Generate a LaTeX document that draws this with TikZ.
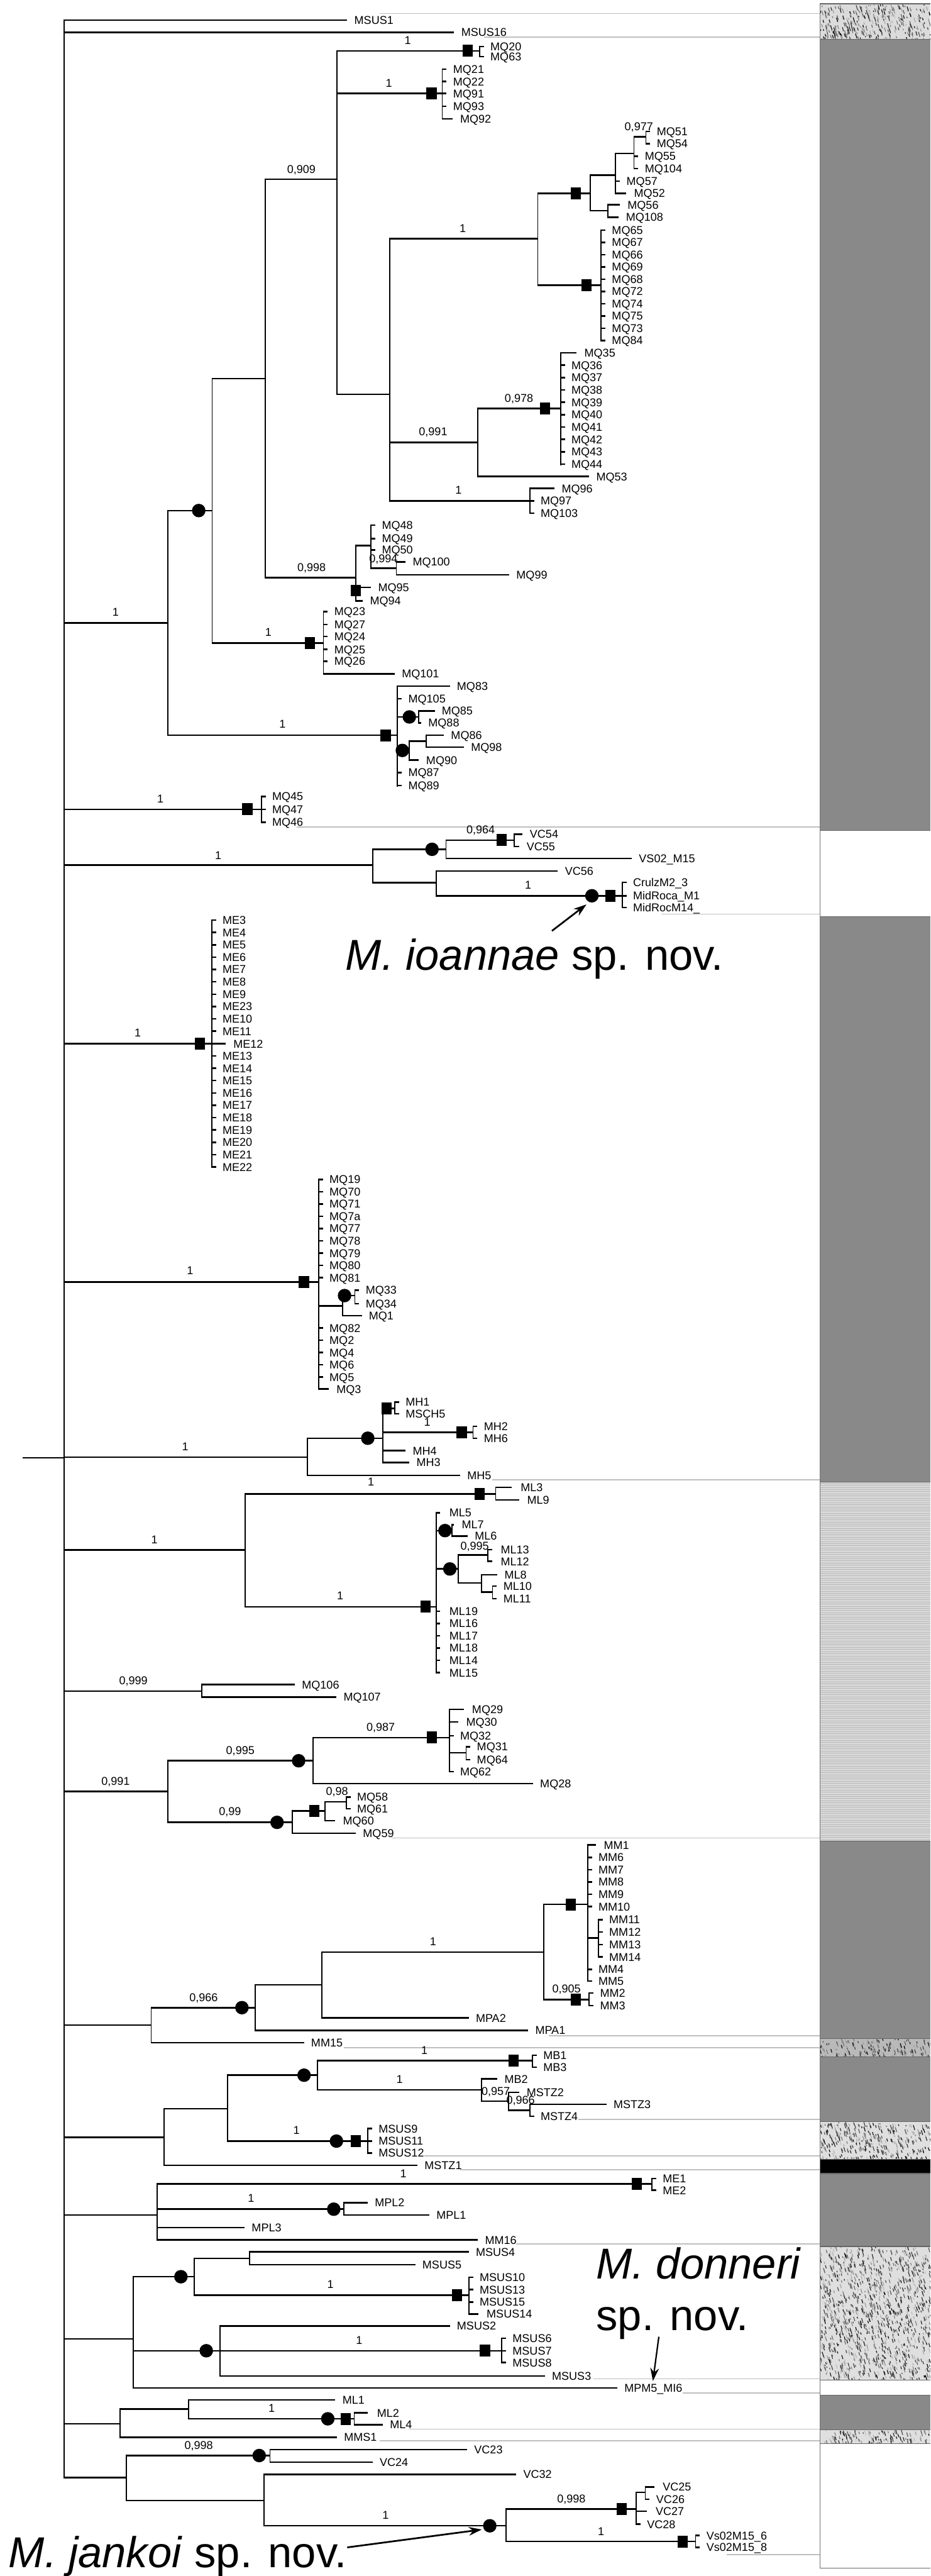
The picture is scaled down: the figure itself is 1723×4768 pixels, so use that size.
\documentclass[tikz,border=0pt]{standalone}
\usepackage{fontspec}
\setmainfont{Liberation Sans}
\usetikzlibrary{arrows.meta}
\definecolor{bargray}{RGB}{137,137,137}
\newcount\tlc
\newcount\bsc
\tikzset{
 hbr/.style={line width=2.9pt},
 vbr/.style={line width=2pt},
 tip/.style={font=\fontsize{21}{25}\selectfont, inner sep=0pt, anchor=west, text height=15pt, text depth=0pt},
 bsl/.style={font=\fontsize{21}{25}\selectfont, inner sep=0pt, anchor=center, text height=15pt, text depth=0pt},
 sepline/.style={line width=2pt, draw=black!25},
 big/.style={font=\fontsize{80}{90}\selectfont, inner sep=0pt, anchor=base west},
 spar/.style={line width=3.2pt, -{Stealth[length=24pt,width=16pt]}},
}
\newcommand\HB[3]{\draw[hbr] (#2,#1) -- (#3,#1);}
\newcommand\VB[3]{\draw[vbr] (#1,#2-1.45) -- (#1,#3+1.45);}
\newcommand\TL[3]{\global\advance\tlc by 1\relax\node[tip] (tip\the\tlc) at (#1,#2) {#3};}
\newcommand\BS[3]{\global\advance\bsc by 1\relax\node[bsl] (bs\the\bsc) at (#1,#2) {#3};}
\newcommand\TT[4]{\HB{#2}{#1}{#3}\TL{#3+13}{#2}{#4}}
\newcommand\PT[3]{\HB{#2}{#1}{#1+8}\TL{#1+20}{#2}{#3}}
\newcommand\CI[2]{\fill (#1,#2) circle[radius=12.5pt];}
\newcommand\SQ[2]{\fill (#1-9.5,#2-11) rectangle (#1+9.5,#2+11);}
\newcommand\SEP[2]{\draw[sepline] (#2,#1) -- (1518,#1);}
\newcommand\granite[4]{%
  \fill[#4] (1518,#1) rectangle (1723,#2);
  \begin{scope}
  \clip (1518,#1) rectangle (1723,#2);
  \foreach \k in {1,...,#3}{%
    \pgfmathsetmacro\gx{1518+205*rnd}%
    \pgfmathsetmacro\gy{#1+(#2-#1)*rnd}%
    \pgfmathsetmacro\gl{2+7*rnd}%
    \pgfmathtruncatemacro\gc{25+75*rnd}%
    \draw[line width=1.4pt, black!\gc] (\gx,\gy) -- ++(0.3*\gl,\gl);
  }
  \end{scope}}
\begin{document}
\begin{tikzpicture}[x=1pt,y=-1pt]
\useasboundingbox (0,0) rectangle (1723,4768);
\fill[white] (0,0) rectangle (1723,4768);
\pgfmathsetseed{7}
% ---------------- right bar ----------------
\granite{7}{73}{340}{gray!28}
\fill[bargray] (1518,73) rectangle (1723,1537);
\fill[white] (1518,1537) rectangle (1723,1697);
\fill[bargray] (1518,1697) rectangle (1723,2743);
\fill[gray!30] (1518,2743) rectangle (1723,3408);
\foreach \yy in {2745,2749,...,3406}{\draw[gray!55, line width=1pt] (1518,\yy) -- (1723,\yy);}
\fill[bargray] (1518,3408) rectangle (1723,3773);
\granite{3773}{3807}{170}{gray!55}
\fill[bargray] (1518,3807) rectangle (1723,3927);
\granite{3927}{3997}{340}{gray!25}
\fill[black] (1518,3997) rectangle (1723,4023);
\fill[bargray] (1518,4023) rectangle (1723,4158);
\granite{4158}{4405}{1150}{gray!25}
\fill[white] (1518,4405) rectangle (1723,4433);
\fill[bargray] (1518,4433) rectangle (1723,4497);
\granite{4497}{4523}{130}{gray!25}
\fill[white] (1518,4523) rectangle (1723,4753);
\foreach \yy in {7,73,1537,1697,2743,3408,3773,3807,3927,3997,4023,4158,4405,4433,4497,4523,4753}{\draw[black!60, line width=1.5pt] (1518,\yy) -- (1723,\yy);}
\draw[black!55, line width=1.3pt] (1518,7) -- (1518,4753);
% separator lines
\SEP{25}{703}\SEP{69}{896}\SEP{1531}{549}\SEP{1692}{1225}\SEP{2739}{912}
\SEP{3402}{725}\SEP{3768}{1016}\SEP{3790}{637}\SEP{3923}{1071}\SEP{3990}{786}
\SEP{4016}{852}\SEP{4153}{956}\SEP{4403}{1099}\SEP{4429}{1264}\SEP{4496}{758}
\SEP{4518}{703}\SEP{4728}{1346}
% ---------------- root ----------------
\HB{2698}{42}{119}
\VB{119}{37}{4586}
\TT{119}{37}{643}{MSUS1}
\TT{119}{60}{841}{MSUS16}
% ---------------- clade A ----------------
\HB{1153}{119}{311} \BS{214}{1133}{1}
\VB{311}{945}{1361}
\HB{945}{311}{393} \CI{368}{945}
\VB{393}{701}{1190}
\HB{701}{393}{491}
\VB{491}{332}{1069}
\HB{332}{491}{624} \BS{558}{313}{0,909}
\VB{624}{94}{730}
\HB{94}{624}{888} \SQ{866}{94} \BS{755}{74}{1}
\VB{888}{86}{105}
\PT{888}{86}{MQ20}
\PT{888}{105}{MQ63}
\HB{173}{624}{819} \SQ{799}{173} \BS{720}{154}{1}
\VB{819}{128}{220}
\PT{819}{128}{MQ21}
\PT{819}{151}{MQ22}
\PT{819}{173}{MQ91}
\PT{819}{197}{MQ93}
\HB{220}{819}{838}\TL{852}{220}{MQ92}
% E
\HB{730}{624}{722}
\VB{722}{442}{927}
\HB{442}{722}{996} \BS{857}{423}{1}
\VB{996}{358}{528}
\HB{358}{996}{1093} \SQ{1066}{358}
\VB{1093}{324}{390}
\HB{324}{1093}{1140}
\VB{1140}{284}{358}
\HB{284}{1140}{1174}
\VB{1174}{253}{312}
\HB{253}{1174}{1196} \BS{1183}{234}{0,977}
\VB{1196}{243}{266}
\PT{1196}{243}{MQ51}
\PT{1196}{266}{MQ54}
\PT{1174}{289}{MQ55}
\PT{1174}{312}{MQ104}
\PT{1140}{335}{MQ57}
\HB{358}{1140}{1159}\TL{1174}{358}{MQ52}
\HB{390}{1093}{1126}
\VB{1126}{379}{402}
\HB{379}{1126}{1148}\TL{1162}{379}{MQ56}
\HB{402}{1126}{1145}\TL{1159}{402}{MQ108}
\HB{528}{996}{1113} \SQ{1086}{528}
\VB{1113}{426}{631}
\foreach \n [count=\i from 0] in {MQ65,MQ67,MQ66,MQ69,MQ68,MQ72,MQ74,MQ75,MQ73,MQ84}{\PT{1113}{426+22.7*\i}{\n}}
\HB{819}{722}{885} \BS{802}{799}{0,991}
\VB{885}{756}{882}
\HB{756}{885}{1038} \SQ{1009}{756} \BS{961}{737}{0,978}
\VB{1038}{653}{860}
\HB{653}{1038}{1068}\TL{1082}{653}{MQ35}
\foreach \n [count=\i from 1] in {MQ36,MQ37,MQ38,MQ39,MQ40,MQ41,MQ42,MQ43,MQ44}{\PT{1038}{653+22.9*\i}{\n}}
\TT{885}{882}{1091}{MQ53}
\HB{927}{722}{981} \BS{849}{907}{1}
\VB{981}{904}{950}
\TT{981}{904}{1027}{MQ96}
\PT{981}{927}{MQ97}
\PT{981}{950}{MQ103}
% N
\HB{1069}{491}{659} \BS{577}{1050}{0,998}
\VB{659}{1010}{1112}
\SQ{659}{1093}
\HB{1087}{659}{687}\TL{700}{1087}{MQ95}
\HB{1112}{659}{672}\TL{685}{1112}{MQ94}
\HB{1010}{659}{687}
\VB{687}{972}{1052}
\PT{687}{972}{MQ48}
\PT{687}{997}{MQ49}
\PT{687}{1018}{MQ50}
\HB{1052}{687}{734} \BS{710}{1034}{0,994}
\VB{734}{1040}{1064}
\HB{1040}{734}{751}\TL{764}{1040}{MQ100}
\TT{734}{1064}{943}{MQ99}
% Q
\HB{1190}{393}{599} \SQ{574}{1190} \BS{497}{1170}{1}
\VB{599}{1132}{1247}
\PT{599}{1132}{MQ23}
\PT{599}{1156}{MQ27}
\PT{599}{1178}{MQ24}
\PT{599}{1202}{MQ25}
\PT{599}{1224}{MQ26}
\TT{599}{1247}{731}{MQ101}
% R
\HB{1361}{311}{736} \SQ{714}{1361} \BS{523}{1340}{1}
\VB{736}{1270}{1455}
\TT{736}{1270}{833}{MQ83}
\PT{736}{1293}{MQ105}
\HB{1327}{736}{775} \CI{758}{1327}
\VB{775}{1316}{1338}
\TT{775}{1316}{805}{MQ85}
\HB{1338}{775}{780}\TL{793}{1338}{MQ88}
\HB{1389}{736}{758} \CI{745}{1389}
\VB{758}{1372}{1407}
\HB{1372}{758}{789}
\VB{789}{1361}{1383}
\TT{789}{1361}{822}{MQ86}
\TT{789}{1383}{859}{MQ98}
\HB{1407}{758}{775}\TL{789}{1407}{MQ90}
\PT{736}{1430}{MQ87}
\PT{736}{1454}{MQ89}
% ---------------- MQ45 ----------------
\HB{1498}{119}{484} \SQ{458}{1498} \BS{297}{1478}{1}
\VB{484}{1474}{1522}
\PT{484}{1474}{MQ45}
\PT{484}{1498}{MQ47}
\PT{484}{1522}{MQ46}
% ---------------- VC ----------------
\HB{1601}{119}{690} \BS{404}{1583}{1}
\VB{690}{1572}{1634}
\HB{1572}{690}{826} \CI{800}{1572}
\VB{826}{1555}{1589}
\HB{1555}{826}{952} \SQ{929}{1555} \BS{890}{1535}{0,964}
\VB{952}{1544}{1567}
\HB{1544}{952}{967}\TL{981}{1544}{VC54}
\HB{1567}{952}{962}\TL{975}{1567}{VC55}
\TT{826}{1589}{1170}{VS02\_M15}
\HB{1634}{690}{808}
\VB{808}{1612}{1658}
\TT{808}{1612}{1033}{VC56}
\HB{1658}{808}{1152} \CI{1096}{1658} \SQ{1130}{1658} \BS{978}{1638}{1}
\VB{1152}{1633}{1680}
\PT{1152}{1633}{CrulzM2\_3}
\PT{1152}{1658}{MidRoca\_M1}
\PT{1152}{1680}{MidRocM14\_}
% ---------------- ME ----------------
\HB{1932}{119}{392} \SQ{370}{1932} \BS{255}{1912}{1}
\VB{392}{1703}{2160}
\foreach \n [count=\i from 0] in {ME3,ME4,ME5,ME6,ME7,ME8,ME9,ME23,ME10,ME11}{\PT{392}{1703+22.85*\i}{\n}}
\HB{1932}{392}{418}\TL{432}{1932}{ME12}
\foreach \n [count=\i from 11] in {ME13,ME14,ME15,ME16,ME17,ME18,ME19,ME20,ME21,ME22}{\PT{392}{1703+22.85*\i}{\n}}
% ---------------- MQ19 ----------------
\HB{2373}{119}{590} \SQ{563}{2373} \BS{352}{2352}{1}
\VB{590}{2183}{2571}
\foreach \n [count=\i from 0] in {MQ19,MQ70,MQ71,MQ7a,MQ77,MQ78,MQ79,MQ80,MQ81}{\PT{590}{2183+22.75*\i}{\n}}
\HB{2417}{590}{634}
\VB{634}{2398}{2435}
\HB{2398}{634}{657} \CI{638}{2398}
\VB{657}{2388}{2413}
\PT{657}{2388}{MQ33}
\PT{657}{2413}{MQ34}
\TT{634}{2435}{670}{MQ1}
\foreach \n [count=\i from 0] in {MQ82,MQ2,MQ4,MQ6,MQ5}{\PT{590}{2458+22.7*\i}{\n}}
\HB{2571}{590}{609}\TL{623}{2571}{MQ3}
% ---------------- MH ----------------
\HB{2697}{119}{569} \BS{343}{2677}{1}
\VB{569}{2662}{2731}
\HB{2662}{569}{709} \CI{681}{2662}
\VB{709}{2607}{2707}
\HB{2607}{709}{731} \SQ{716}{2607}
\VB{731}{2595}{2617}
\PT{731}{2595}{MH1}
\PT{731}{2617}{MSCH5}
\HB{2651}{709}{876} \SQ{855}{2651} \BS{791}{2632}{1}
\VB{876}{2640}{2662}
\PT{876}{2640}{MH2}
\PT{876}{2662}{MH6}
\TT{709}{2685}{751}{MH4}
\TT{709}{2707}{758}{MH3}
\TT{569}{2731}{852}{MH5}
% ---------------- ML ----------------
\HB{2869}{119}{454} \BS{286}{2850}{1}
\VB{454}{2765}{2974}
\HB{2765}{454}{918} \SQ{888}{2765} \BS{687}{2743}{1}
\VB{918}{2753}{2776}
\HB{2753}{918}{947}\TL{964}{2753}{ML3}
\HB{2776}{918}{962}\TL{976}{2776}{ML9}
\HB{2974}{454}{808} \SQ{788}{2974} \BS{630}{2953}{1}
\VB{808}{2800}{3096}
\HB{2800}{808}{815}\TL{832}{2800}{ML5}
\HB{2833}{808}{837} \CI{824}{2833}
\VB{837}{2822}{2843}
\HB{2822}{837}{841}\TL{855}{2822}{ML7}
\TT{837}{2843}{866}{ML6}
\HB{2904}{808}{849} \CI{833}{2904}
\VB{849}{2878}{2930}
\HB{2878}{849}{903} \BS{879}{2861}{0,995}
\VB{903}{2868}{2890}
\HB{2868}{903}{912}\TL{927}{2868}{ML13}
\HB{2890}{903}{912}\TL{927}{2890}{ML12}
\HB{2930}{849}{892}
\VB{892}{2915}{2947}
\TT{892}{2915}{921}{ML8}
\HB{2947}{892}{912}
\VB{912}{2936}{2959}
\PT{912}{2936}{ML10}
\PT{912}{2959}{ML11}
\foreach \n [count=\i from 0] in {ML19,ML16,ML17,ML18,ML14,ML15}{\HB{2982+22.8*\i}{808}{815}\TL{832}{2982+22.8*\i}{\n}}
% ---------------- MQ106 ----------------
\HB{3130}{119}{374} \BS{247}{3110}{0,999}
\VB{374}{3118}{3141}
\TT{374}{3118}{546}{MQ106}
\TT{374}{3141}{623}{MQ107}
% ---------------- MQ29 ----------------
\HB{3316}{119}{311} \BS{214}{3297}{0,991}
\VB{311}{3259}{3373}
\HB{3259}{311}{580} \CI{553}{3259} \BS{445}{3240}{0,995}
\VB{580}{3216}{3301}
\HB{3216}{580}{832} \SQ{800}{3216} \BS{705}{3197}{0,987}
\VB{832}{3164}{3279}
\HB{3164}{832}{859}\TL{874}{3164}{MQ29}
\HB{3187}{832}{849}\TL{863}{3187}{MQ30}
\PT{832}{3213}{MQ32}
\HB{3244}{832}{863}
\VB{863}{3233}{3257}
\PT{863}{3233}{MQ31}
\PT{863}{3257}{MQ64}
\PT{832}{3279}{MQ62}
\TT{580}{3301}{987}{MQ28}
\HB{3373}{311}{541} \CI{513}{3373} \BS{426}{3353}{0,99}
\VB{541}{3352}{3393}
\HB{3352}{541}{602} \SQ{582}{3352}
\VB{602}{3335}{3370}
\HB{3335}{602}{641} \BS{624}{3315}{0,98}
\VB{641}{3326}{3348}
\PT{641}{3326}{MQ58}
\PT{641}{3348}{MQ61}
\HB{3370}{602}{621}\TL{635}{3370}{MQ60}
\TT{541}{3393}{659}{MQ59}
% ---------------- MM ----------------
\HB{3748}{119}{280}
\VB{280}{3716}{3781}
\HB{3716}{280}{473} \CI{448}{3716} \BS{377}{3697}{0,966}
\VB{473}{3674}{3758}
\HB{3674}{473}{596}
\VB{596}{3613}{3735}
\HB{3613}{596}{1007} \BS{802}{3593}{1}
\VB{1007}{3525}{3701}
\HB{3525}{1007}{1088} \SQ{1057}{3525}
\VB{1088}{3415}{3667}
\HB{3415}{1088}{1104}\TL{1118}{3415}{MM1}
\foreach \n [count=\i from 1] in {MM6,MM7,MM8,MM9,MM10}{\PT{1088}{3415+22.8*\i}{\n}}
\HB{3587}{1088}{1108}
\VB{1108}{3553}{3622}
\foreach \n [count=\i from 0] in {MM11,MM12,MM13,MM14}{\PT{1108}{3553+23*\i}{\n}}
\PT{1088}{3645}{MM4}
\PT{1088}{3667}{MM5}
\HB{3701}{1007}{1091} \SQ{1066}{3701} \BS{1049}{3681}{0,905}
\VB{1091}{3689}{3712}
\PT{1091}{3689}{MM2}
\PT{1091}{3712}{MM3}
\TT{596}{3735}{868}{MPA2}
\TT{473}{3758}{978}{MPA1}
\TT{280}{3781}{563}{MM15}
% ---------------- MB ----------------
\HB{3956}{119}{304}
\VB{304}{3903}{4008}
\HB{3903}{304}{421}
\VB{421}{3841}{3963}
\HB{3841}{421}{588} \CI{563}{3841}
\VB{588}{3814}{3868}
\HB{3814}{588}{986} \SQ{951}{3814} \BS{786}{3795}{1}
\VB{986}{3804}{3826}
\PT{986}{3804}{MB1}
\PT{986}{3826}{MB3}
\HB{3868}{588}{892} \BS{740}{3848}{1}
\VB{892}{3848}{3889}
\TT{892}{3848}{921}{MB2}
\HB{3889}{892}{942} \BS{918}{3870}{0,957}
\VB{942}{3873}{3906}
\TT{942}{3873}{962}{MSTZ2}
\HB{3906}{942}{981} \BS{964}{3887}{0,966}
\VB{981}{3895}{3917}
\TT{981}{3895}{1123}{MSTZ3}
\PT{981}{3917}{MSTZ4}
\HB{3963}{421}{681} \CI{623}{3963} \SQ{659}{3963} \BS{549}{3943}{1}
\VB{681}{3940}{3985}
\PT{681}{3940}{MSUS9}
\PT{681}{3963}{MSUS11}
\PT{681}{3985}{MSUS12}
\TT{304}{4008}{773}{MSTZ1}
% ---------------- ME1 / MPL ----------------
\HB{4100}{119}{291}
\VB{291}{4042}{4146}
\HB{4042}{291}{1207} \SQ{1179}{4042} \BS{747}{4023}{1}
\VB{1207}{4032}{4054}
\PT{1207}{4032}{ME1}
\PT{1207}{4054}{ME2}
\HB{4089}{291}{637} \CI{618}{4089} \BS{465}{4068}{1}
\VB{637}{4077}{4100}
\TT{637}{4077}{681}{MPL2}
\TT{637}{4100}{795}{MPL1}
\TT{291}{4123}{453}{MPL3}
\TT{291}{4146}{885}{MM16}
% ---------------- MSUS ----------------
\HB{4329}{119}{247}
\VB{247}{4214}{4420}
\HB{4214}{247}{360} \CI{335}{4214}
\VB{360}{4180}{4248}
\HB{4180}{360}{462}
\VB{462}{4168}{4192}
\TT{462}{4168}{868}{MSUS4}
\TT{462}{4192}{769}{MSUS5}
\HB{4248}{360}{868} \SQ{846}{4248} \BS{612}{4228}{1}
\VB{868}{4215}{4283}
\PT{868}{4215}{MSUS10}
\PT{868}{4238}{MSUS13}
\PT{868}{4261}{MSUS15}
\HB{4283}{868}{886}\TL{901}{4283}{MSUS14}
\HB{4351}{247}{407} \CI{382}{4351}
\VB{407}{4305}{4398}
\TT{407}{4305}{833}{MSUS2}
\HB{4351}{407}{929} \SQ{898}{4351} \BS{665}{4332}{1}
\VB{929}{4328}{4373}
\PT{929}{4328}{MSUS6}
\PT{929}{4351}{MSUS7}
\PT{929}{4373}{MSUS8}
\TT{407}{4398}{1009}{MSUS3}
\TT{247}{4420}{1143}{MPM5\_MI6}
% ---------------- ML1 ----------------
\HB{4486}{119}{222}
\VB{222}{4459}{4511}
\HB{4459}{222}{349}
\VB{349}{4442}{4477}
\TT{349}{4442}{621}{ML1}
\HB{4477}{349}{656} \CI{607}{4477} \SQ{640}{4477} \BS{503}{4457}{1}
\VB{656}{4466}{4488}
\HB{4466}{656}{681}\TL{698}{4466}{ML2}
\TT{656}{4488}{709}{ML4}
\TT{222}{4511}{624}{MMS1}
% ---------------- VC23 ----------------
\HB{4586}{119}{234}
\VB{234}{4545}{4628}
\HB{4545}{234}{500} \CI{480}{4545} \BS{368}{4526}{0,998}
\VB{500}{4534}{4557}
\TT{500}{4534}{865}{VC23}
\TT{500}{4557}{690}{VC24}
\HB{4628}{234}{489}
\VB{489}{4580}{4675}
\TT{489}{4580}{956}{VC32}
\HB{4675}{489}{937} \CI{907}{4675} \BS{714}{4655}{1}
\VB{937}{4644}{4704}
\HB{4644}{937}{1178} \SQ{1151}{4644} \BS{1058}{4625}{0,998}
\VB{1178}{4613}{4672}
\HB{4613}{1178}{1195}
\VB{1195}{4603}{4626}
\HB{4603}{1195}{1212}\TL{1227}{4603}{VC25}
\PT{1195}{4626}{VC26}
\HB{4648}{1178}{1198}\TL{1214}{4648}{VC27}
\PT{1178}{4672}{VC28}
\HB{4704}{937}{1288} \SQ{1264}{4704} \BS{1113}{4685}{1}
\VB{1288}{4693}{4715}
\PT{1288}{4693}{Vs02M15\_6}
\PT{1288}{4715}{Vs02M15\_8}
% ---------------- species labels ----------------
\node[big] (ioannae) at (640,1795) {\textit{M. ioannae} sp. nov.};
\coordinate (ioA) at (1022,1723);
\coordinate (ioB) at (1086,1674);
\draw[spar] (ioA) -- (ioB);
\node[big] (donneri) at (1104,4218) {\textit{M. donneri}};
\node[big] (donneri2) at (1104,4313) {sp. nov.};
\coordinate (doA) at (1220,4325);
\coordinate (doB) at (1209,4407);
\draw[spar, line width=2.6pt] (doA) -- (doB);
\node[big] (jankoi) at (16,4752) {\textit{M. jankoi} sp. nov.};
\coordinate (jaA) at (643,4715);
\coordinate (jaB) at (892,4682);
\draw[spar] (jaA) -- (jaB);
\end{tikzpicture}
\end{document}
